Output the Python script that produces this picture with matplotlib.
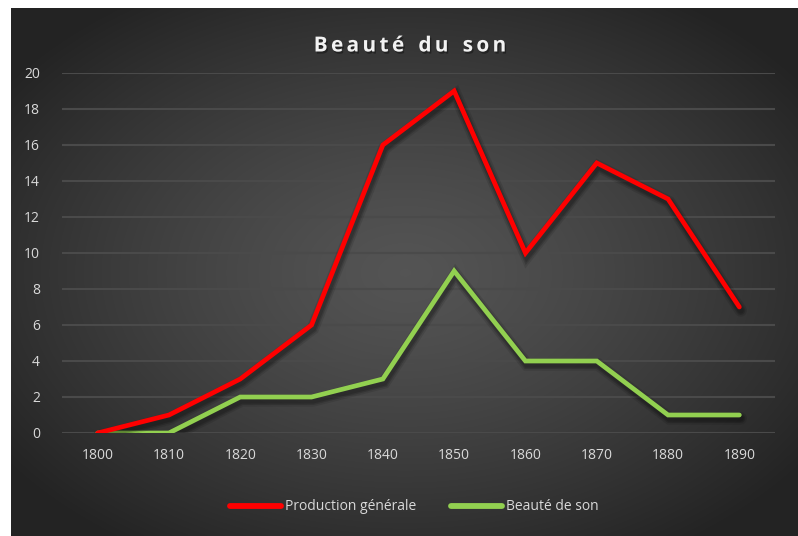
import numpy as np
import matplotlib
matplotlib.use("Agg")
import matplotlib.pyplot as plt
import matplotlib.patheffects as pe

years = ["1800", "1810", "1820", "1830", "1840", "1850", "1860", "1870", "1880", "1890"]
production = [0, 1, 3, 6, 16, 19, 10, 15, 13, 7]
beaute = [0, 0, 2, 2, 3, 9, 4, 4, 1, 1]
series_names = ["Production générale", "Beauté de son"]
title = "Beauté du son"

W, H = 798, 536
fig = plt.figure(figsize=(W / 100, H / 100), dpi=100)
fig.patch.set_facecolor("white")

# background radial gradient
bg = fig.add_axes([11 / W, 0, 1 - 11 / W, 1 - 8 / H], zorder=-5)
ny, nx = 300, 450
yy, xx = np.mgrid[0:ny, 0:nx]
cx, cy = nx * 0.5, ny * 0.5
r = np.sqrt(((xx - cx) / (nx * 0.62)) ** 2 + ((yy - cy) / (ny * 0.62)) ** 2)
r = np.clip(r, 0, 1)
inner, outer = 0.33, 0.14
val = inner + (outer - inner) * r ** 1.3
bg.imshow(np.dstack([val, val, val]), aspect="auto", extent=[0, 1, 0, 1], interpolation="bilinear")
bg.set_axis_off()

ax = fig.add_axes([62 / W, 1 - 433 / H, (775 - 62) / W, (433 - 73) / H])
ax.set_facecolor("none")
x = np.arange(len(years))
shadow = [pe.SimpleLineShadow(offset=(1, -2.5), shadow_color="black", alpha=0.10, linewidth=9),
          pe.SimpleLineShadow(offset=(1, -2.5), shadow_color="black", alpha=0.15, linewidth=6.5),
          pe.SimpleLineShadow(offset=(1, -2.5), shadow_color="black", alpha=0.15, linewidth=4.5),
          pe.Normal()]
l1, = ax.plot(x, production, color="#FF0000", lw=3.4, solid_capstyle="round", solid_joinstyle="miter",
              path_effects=shadow, zorder=4, label=series_names[0])
l2, = ax.plot(x, beaute, color="#92D050", lw=3.4, solid_capstyle="round", solid_joinstyle="miter",
              path_effects=shadow, zorder=3, label=series_names[1])

ax.set_xlim(-0.5, len(years) - 0.5)
ax.set_ylim(0, 20)
ax.set_yticks(range(0, 21, 2))
ax.set_xticks(x)
ax.set_xticklabels(years)
ax.grid(axis="y", color="#4a4a4a", lw=1.5)
ax.set_axisbelow(True)
for s in ax.spines.values():
    s.set_visible(False)
ax.tick_params(length=0, colors="#d9d9d9", labelsize=10)
ax.tick_params(axis="y", pad=16)
ax.tick_params(axis="x", pad=11)
for lab in ax.get_xticklabels() + ax.get_yticklabels():
    lab.set_fontfamily("Open Sans")
    lab.set_color("#d9d9d9")

leg = fig.legend(handles=[l1, l2], loc="center", bbox_to_anchor=(414 / W, 1 - 507 / H), ncol=2,
                 frameon=False, handlelength=3.7, handletextpad=0.25, columnspacing=2.5,
                 prop={"family": "Open Sans", "size": 10})
for t in leg.get_texts():
    t.set_color("#d9d9d9")
for h in leg.legend_handles:
    h.set_path_effects([])
    h.set_linewidth(4.2)

# letter-spaced title
fig.canvas.draw()
renderer = fig.canvas.get_renderer()
tprops = dict(fontsize=15, fontweight="bold", family="Open Sans", color="#f2f2f2")
spacing = 3.3
widths = []
for ch in title:
    t = fig.text(0, 0, ch if ch != " " else "n", **tprops)
    bb = t.get_window_extent(renderer)
    widths.append(bb.width * (0.55 if ch == " " else 1.0))
    t.remove()
total = sum(widths) + spacing * (len(title) - 1)
xpos = 410 - total / 2
ypix = H - 46
for ch, w in zip(title, widths):
    if ch != " ":
        fig.text(xpos / W, ypix / H, ch, ha="left", va="center",
                 path_effects=[pe.withSimplePatchShadow(offset=(1, -1.5), shadow_rgbFace="black", alpha=0.35)],
                 **tprops)
    xpos += w + spacing

fig.savefig("out.png", dpi=100, facecolor=fig.get_facecolor())
